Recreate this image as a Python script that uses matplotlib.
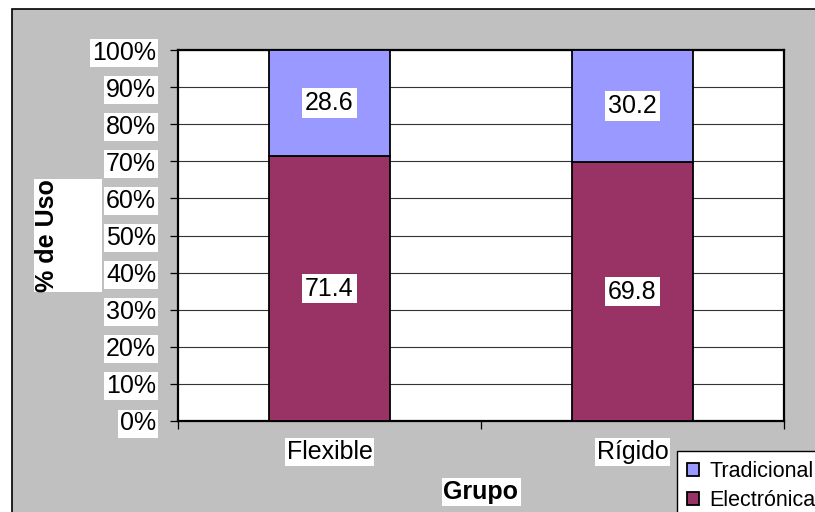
import matplotlib
matplotlib.use("Agg")
import matplotlib.pyplot as plt
from matplotlib.patches import Rectangle, Patch

plt.rcParams['font.family'] = ['Liberation Sans', 'DejaVu Sans']

categories = ['Flexible', 'Rígido']
electronica = [71.4, 69.8]
tradicional = [28.6, 30.2]
y_ticks = [0, 10, 20, 30, 40, 50, 60, 70, 80, 90, 100]
y_tick_labels = [f'{v}%' for v in y_ticks]

col_elec = '#993366'
col_trad = '#9999FF'
fs = 18
W, H = 815, 512

fig = plt.figure(figsize=(W / 100, H / 100), dpi=100)
fig.patch.set_facecolor('white')

# gray chart area with its frame
fig.add_artist(Rectangle((11.5 / W, -0.1), 1.2, 1 - 8.5 / H + 0.1,
                         transform=fig.transFigure, facecolor='#c0c0c0',
                         edgecolor='black', lw=1.2, zorder=0))

ax = fig.add_axes([178 / W, 91 / H, 606 / W, 371 / H])
ax.set_facecolor('white')

x = list(range(len(categories)))
width = 0.4
ax.bar(x, electronica, width, color=col_elec, edgecolor='black', lw=1.3, zorder=3)
ax.bar(x, tradicional, width, bottom=electronica, color=col_trad,
       edgecolor='black', lw=1.3, zorder=3)

box = dict(facecolor='white', edgecolor='none', pad=2)
for xi, e, t in zip(x, electronica, tradicional):
    ax.text(xi, e / 2, f'{e:.1f}', ha='center', va='center', fontsize=fs,
            bbox=box, zorder=4)
    ax.text(xi, e + t / 2, f'{t:.1f}', ha='center', va='center', fontsize=fs,
            bbox=box, zorder=4)

ax.set_xlim(-0.5, len(categories) - 0.5)
ax.set_ylim(0, 100)
ax.set_yticks(y_ticks)
ax.set_yticklabels(y_tick_labels, fontsize=fs)
ax.yaxis.grid(True, color='#333333', lw=0.8, zorder=1)
ax.set_axisbelow(True)

# category boundaries as ticks, names centred on the bars
ax.set_xticks([i - 0.5 for i in range(len(categories) + 1)])
ax.set_xticklabels([''] * (len(categories) + 1))
ax.set_xticks(x, minor=True)
ax.set_xticklabels(categories, minor=True, fontsize=fs)
ax.tick_params(axis='x', which='minor', length=0, pad=14)
ax.tick_params(axis='x', which='major', length=5.5, width=0.9, direction='out')
ax.tick_params(axis='y', length=5.8, width=0.9, direction='out', pad=10)

for lab in ax.get_yticklabels() + ax.get_xticklabels(minor=True):
    lab.set_bbox(dict(facecolor='white', edgecolor='none', pad=1.5))

for sp in ax.spines.values():
    sp.set_linewidth(1.6)
    sp.set_color('black')

# y-axis title on its white panel
fig.add_artist(Rectangle((34 / W, 1 - 292 / H), 68 / W, 113 / H,
                         transform=fig.transFigure, facecolor='white',
                         edgecolor='none', zorder=1))
fig.text(47 / W, 1 - 235.5 / H, '% de Uso', rotation=90, ha='center',
         va='center', fontsize=fs, fontweight='bold', zorder=2)

fig.text(481 / W, 1 - 492 / H, 'Grupo', ha='center', va='center', fontsize=fs,
         fontweight='bold', bbox=dict(facecolor='white', edgecolor='none', pad=1.5))

handles = [Patch(facecolor=col_trad, edgecolor='black', lw=1.3),
           Patch(facecolor=col_elec, edgecolor='black', lw=1.3)]
leg = fig.legend(handles, ['Tradicional', 'Electrónica'], loc='upper left',
                 bbox_to_anchor=(677 / W, 1 - 451 / H),
                 bbox_transform=fig.transFigure, fontsize=15.5,
                 frameon=True, fancybox=False, shadow=False,
                 handlelength=0.55, handleheight=0.55, handletextpad=0.5,
                 borderpad=0.45, labelspacing=0.4, borderaxespad=0)
leg.get_frame().set_edgecolor('black')
leg.get_frame().set_linewidth(1.0)
leg.get_frame().set_facecolor('white')
leg.get_frame().set_alpha(1)

fig.savefig('out.png', dpi=100)
